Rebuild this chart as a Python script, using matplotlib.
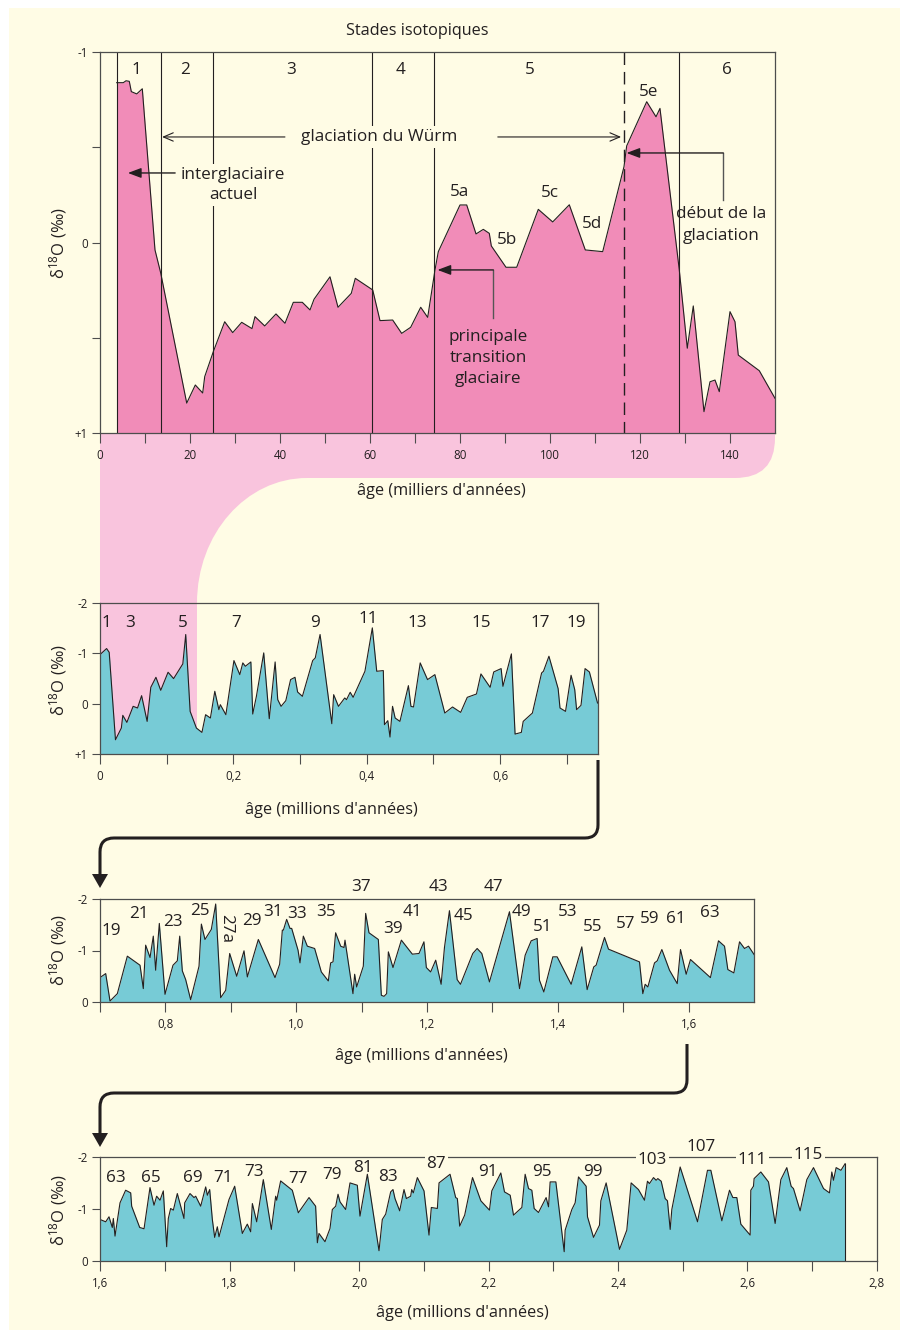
import numpy as np
import matplotlib.pyplot as plt
from matplotlib.path import Path
from matplotlib.patches import PathPatch, Rectangle, Polygon

plt.rcParams['font.family'] = ['Open Sans', 'DejaVu Sans']
plt.rcParams['mathtext.default'] = 'regular'

W, H = 902, 1330
CREAM = '#FFFCE5'
PINK = '#F18CB8'
LIGHTPINK = '#F9C4DD'
TEAL = '#77CBD6'
INK = '#231F20'
SPINE = '#4D4D4D'
FS_NOTE = 12.3
FS_LAB = 11.7

# ---- panel 1 : last 150 kyr (milliers d'annees)
age1 = [3.71, 5.18, 5.78, 6.51, 6.96, 8.16, 9.40, 12.22, 13.49, 19.27, 21.18, 22.82, 23.27,
        25.18, 27.71, 29.49, 31.49, 33.78, 34.44, 36.6, 39.11, 41.11, 42.96, 44.96, 46.67,
        47.56, 51.11, 52.89, 55.84, 56.73, 60.6, 62.22, 65.04, 67.04, 69.04, 71.27, 72.82,
        74.44, 75.18, 80.0, 81.49, 83.56, 85.18, 86.51, 86.96, 90.22, 92.6, 97.4, 100.6,
        104.29, 107.84, 111.71, 116.44, 117.04, 121.49, 123.56, 124.44, 128.73, 130.51,
        131.84, 134.22, 135.56, 136.67, 137.62, 140.0, 141.11, 141.84, 146.51, 150.0]
d18o1 = [-0.839, -0.839, -0.849, -0.846, -0.792, -0.780, -0.807, 0.039, 0.160, 0.843, 0.748,
         0.790, 0.704, 0.573, 0.416, 0.473, 0.419, 0.452, 0.389, 0.438, 0.375, 0.424, 0.314,
         0.314, 0.354, 0.298, 0.180, 0.340, 0.267, 0.188, 0.249, 0.410, 0.407, 0.477, 0.445,
         0.340, 0.393, 0.144, 0.048, -0.197, -0.197, -0.045, -0.069, -0.048, 0.018, 0.130,
         0.130, -0.174, -0.108, -0.198, 0.039, 0.048, -0.398, -0.507, -0.739, -0.660, -0.704,
         0.144, 0.555, 0.333, 0.888, 0.731, 0.722, 0.783, 0.363, 0.416, 0.591, 0.673, 0.818]
stage_bounds = [3.7, 13.5, 25.1, 60.5, 74.3, 128.7]
würm_start = 116.4
stages1 = ['1', '2', '3', '4', '5', '6']
stages1_age = [8.0, 18.9, 42.4, 66.9, 95.6, 139.3]
sub5 = ['5a', '5b', '5c', '5d', '5e']
sub5_pos = [(79.8, -0.265), (90.4, -0.013), (100.0, -0.26), (109.3, -0.097), (121.8, -0.79)]

# ---- panel 2 : 0 - 0.75 Ma
age2 = [0.0, 0.0099, 0.0138, 0.0232, 0.032, 0.0342, 0.0403, 0.0497, 0.0563, 0.0624, 0.0707,
        0.0762, 0.0839, 0.0911, 0.1021, 0.1104, 0.1242, 0.1286, 0.1352, 0.1446, 0.1529,
        0.1584, 0.1656, 0.1722, 0.1783, 0.1805, 0.1888, 0.2009, 0.2097, 0.2142, 0.218,
        0.2263, 0.2291, 0.2346, 0.2456, 0.2539, 0.2627, 0.2666, 0.2716, 0.2787, 0.2859,
        0.2925, 0.2964, 0.3036, 0.319, 0.3229, 0.3301, 0.3477, 0.3505, 0.3577, 0.3671,
        0.3698, 0.3753, 0.3797, 0.3974, 0.4085, 0.4151, 0.425, 0.4267, 0.4317, 0.435,
        0.4388, 0.4427, 0.4499, 0.4626, 0.4664, 0.4703, 0.4803, 0.4913, 0.5023, 0.5172,
        0.5288, 0.541, 0.5509, 0.5647, 0.5714, 0.5852, 0.5906, 0.6017, 0.6044, 0.6171,
        0.6226, 0.632, 0.6348, 0.6486, 0.6624, 0.6652, 0.6734, 0.6872, 0.69, 0.6983,
        0.7066, 0.7121, 0.7149, 0.7215, 0.7276, 0.7341, 0.7463]
d18o2 = [-0.975, -1.095, -1.02, 0.717, 0.484, 0.232, 0.372, 0.053, 0.086, -0.159, 0.352,
         -0.325, -0.524, -0.265, -0.624, -0.498, -0.79, -1.374, 0.153, 0.484, 0.571, 0.219,
         0.285, -0.246, 0.119, 0.02, 0.219, -0.856, -0.577, -0.81, -0.743, -0.829, 0.206,
         -0.146, -1.009, 0.299, -0.829, -0.08, 0.053, -0.06, -0.478, -0.524, -0.232, -0.146,
         -0.856, -0.909, -1.374, 0.398, -0.179, 0.053, -0.113, -0.08, -0.226, -0.126, -0.644,
         -1.506, -0.644, -0.657, 0.418, 0.338, 0.663, 0.053, 0.285, 0.352, -0.358, 0.053,
         0.066, -0.81, -0.478, -0.577, 0.186, 0.066, 0.173, -0.126, -0.192, -0.591, -0.325,
         -0.63, -0.697, -0.345, -0.989, 0.604, 0.571, 0.352, 0.186, -0.61, -0.644, -0.942,
         -0.299, 0.086, 0.153, -0.564, -0.279, 0.119, 0.033, -0.697, -0.63, -0.013]
lab2 = ['1', '3', '5', '7', '9', '11', '13', '15', '17', '19']
lab2_age = [0.0099, 0.0453, 0.1236, 0.2042, 0.3229, 0.4018, 0.4758, 0.5724, 0.6607, 0.7137]
lab2_val = [-1.60, -1.60, -1.60, -1.60, -1.60, -1.68, -1.60, -1.60, -1.60, -1.60]

# ---- panel 3 : 0.7 - 1.7 Ma
age3 = [0.7, 0.7087, 0.7153, 0.7265, 0.7418, 0.7612, 0.7662, 0.7698, 0.7765, 0.7815, 0.7851,
        0.7907, 0.7994, 0.8116, 0.8182, 0.8219, 0.8259, 0.831, 0.8386, 0.8514, 0.855,
        0.8605, 0.8702, 0.8769, 0.8845, 0.8922, 0.8983, 0.909, 0.9202, 0.9253, 0.9421,
        0.9676, 0.9747, 0.9788, 0.9804, 0.9854, 0.9905, 0.9931, 1.0028, 1.0058, 1.0109,
        1.017, 1.0282, 1.0384, 1.0491, 1.0527, 1.0563, 1.0603, 1.068, 1.0731, 1.0746,
        1.0868, 1.0894, 1.0924, 1.1026, 1.1062, 1.1113, 1.1256, 1.1302, 1.1343, 1.1383,
        1.1409, 1.148, 1.1608, 1.1776, 1.1878, 1.1953, 1.199, 1.2056, 1.2133, 1.2216,
        1.2267, 1.2343, 1.2461, 1.2512, 1.27, 1.2767, 1.2838, 1.2955, 1.3261, 1.3415,
        1.3501, 1.3593, 1.3684, 1.372, 1.3786, 1.3924, 1.399, 1.4204, 1.4367, 1.4449,
        1.455, 1.4586, 1.4714, 1.4775, 1.5249, 1.53, 1.5336, 1.5377, 1.5479, 1.552, 1.5591,
        1.5708, 1.5826, 1.5876, 1.5963, 1.6029, 1.6334, 1.6457, 1.6549, 1.66, 1.6692,
        1.6779, 1.6855, 1.6916, 1.7008]
d18o3 = [-0.474, -0.552, -0.019, -0.162, -0.89, -0.714, -0.26, -1.104, -0.864, -1.279,
         -0.617, -1.526, -0.149, -0.714, -0.799, -1.279, -0.604, -0.435, -0.045, -0.695,
         -1.513, -1.214, -1.409, -1.903, -0.084, -0.227, -0.942, -0.5, -0.994, -0.487,
         -1.214, -0.474, -0.734, -1.396, -1.396, -1.604, -1.429, -1.429, -1.006, -0.76,
         -1.279, -1.084, -1.039, -0.584, -0.409, -0.76, -0.779, -1.344, -1.084, -1.058,
         -1.201, -0.162, -0.539, -0.292, -0.695, -1.721, -1.344, -1.214, -0.13, -0.11,
         -0.162, -0.974, -0.669, -1.201, -0.929, -0.942, -1.169, -0.669, -0.584, -0.812,
         -0.344, -1.058, -1.773, -0.435, -0.344, -0.942, -1.039, -0.942, -0.39, -1.753,
         -0.26, -0.909, -1.188, -1.234, -0.422, -0.195, -0.877, -0.877, -0.344, -1.071,
         -0.24, -0.682, -0.714, -1.253, -1.026, -0.779, -0.162, -0.344, -0.292, -0.76,
         -0.799, -1.019, -0.617, -0.357, -1.019, -0.539, -0.825, -0.474, -1.188, -1.084,
         -0.63, -0.565, -1.169, -1.039, -1.084, -0.909]
lab3 = ['19', '21', '23', '25', '27a', '29', '31', '33', '35', '37', '39', '41', '43', '45',
        '47', '49', '51', '53', '55', '57', '59', '61', '63']
lab3_age = [0.7174, 0.7587, 0.8112, 0.8524, 0.8933, 0.9315, 0.9641, 1.0008, 1.0462, 1.0986,
            1.1476, 1.1781, 1.2174, 1.2557, 1.3009, 1.3448, 1.3765, 1.4156, 1.4538, 1.5038,
            1.541, 1.5803, 1.6327]
lab3_val = [-1.377, -1.708, -1.552, -1.766, -1.435, -1.572, -1.747, -1.708, -1.747, -2.234,
            -1.416, -1.747, -2.234, -1.675, -2.234, -1.747, -1.455, -1.753, -1.461, -1.513,
            -1.611, -1.611, -1.727]

# ---- panel 4 : 1.6 - 2.75 Ma
age4 = [1.6, 1.6088, 1.6139, 1.619, 1.6206, 1.6232, 1.6309, 1.6396, 1.6474, 1.6489, 1.6613,
        1.668, 1.6772, 1.6834, 1.6875, 1.6927, 1.6978, 1.703, 1.7055, 1.7091, 1.7133,
        1.7194, 1.7297, 1.7308, 1.739, 1.7452, 1.7478, 1.7555, 1.7632, 1.7658, 1.7694,
        1.7735, 1.7771, 1.7812, 1.7838, 1.7992, 1.808, 1.8198, 1.8275, 1.8327, 1.8353,
        1.842, 1.8522, 1.8646, 1.8713, 1.8729, 1.879, 1.897, 1.9063, 1.9228, 1.933, 1.9357,
        1.9382, 1.9475, 1.9552, 1.9588, 1.964, 1.9676, 1.9707, 1.9794, 1.9861, 1.9974,
        2.0015, 2.0129, 2.0309, 2.036, 2.0412, 2.0489, 2.0525, 2.0556, 2.0628, 2.0695,
        2.0731, 2.0798, 2.0814, 2.0839, 2.0901, 2.1004, 2.1081, 2.1117, 2.121, 2.1236,
        2.1406, 2.1493, 2.1519, 2.1555, 2.1632, 2.1753, 2.1882, 2.2015, 2.2051, 2.219,
        2.2247, 2.2335, 2.2386, 2.2515, 2.2566, 2.2618, 2.2669, 2.2705, 2.2772, 2.289,
        2.2927, 2.2952, 2.304, 2.3169, 2.3184, 2.3287, 2.3338, 2.339, 2.3508, 2.3529,
        2.3622, 2.3714, 2.3735, 2.3817, 2.4023, 2.4136, 2.4203, 2.4316, 2.4409, 2.4455,
        2.4486, 2.4548, 2.4589, 2.4615, 2.4667, 2.4728, 2.4764, 2.4806, 2.4831, 2.496,
        2.5228, 2.5382, 2.5434, 2.5604, 2.5722, 2.5774, 2.5835, 2.5897, 2.6041, 2.6051,
        2.6092, 2.6102, 2.6206, 2.6324, 2.6427, 2.6515, 2.6607, 2.6674, 2.671, 2.6813,
        2.6916, 2.7019, 2.7174, 2.7266, 2.7302, 2.7328, 2.7369, 2.7443, 2.7508]
d18o4 = [-0.799, -0.754, -0.85, -0.645, -0.818, -0.479, -1.118, -1.361, -1.31, -1.054,
         -0.645, -0.62, -1.412, -1.073, -1.246, -1.169, -1.348, -0.275, -0.818, -1.01,
         -0.978, -1.297, -0.818, -1.118, -1.297, -1.22, -1.246, -1.054, -1.425, -1.265,
         -1.374, -0.799, -0.454, -0.658, -0.466, -1.182, -1.438, -0.53, -0.709, -0.562,
         -1.105, -0.754, -1.565, -0.607, -1.246, -1.169, -1.54, -1.361, -0.927, -1.22,
         -1.054, -0.351, -0.53, -0.371, -0.626, -0.99, -1.054, -1.284, -1.137, -0.99,
         -1.502, -1.457, -0.863, -1.668, -0.198, -0.799, -0.901, -1.329, -1.374, -1.201,
         -0.965, -1.374, -1.201, -1.246, -1.374, -1.31, -1.604, -1.348, -0.498, -1.029,
         -1.01, -1.502, -1.668, -1.22, -1.201, -0.671, -0.882, -1.604, -1.157, -0.978,
         -1.348, -1.693, -1.329, -1.265, -0.882, -1.029, -1.668, -1.393, -1.361, -1.01,
         -0.933, -1.22, -1.042, -1.521, -1.521, -0.179, -0.594, -0.99, -1.118, -1.617,
         -1.438, -0.85, -0.454, -0.69, -1.157, -1.502, -0.224, -0.594, -1.502, -1.374,
         -1.169, -1.534, -1.489, -1.604, -1.553, -1.585, -1.534, -1.201, -1.157, -0.607,
         -0.99, -1.808, -0.754, -1.744, -1.744, -0.773, -1.361, -1.22, -1.22, -0.709,
         -0.498, -1.361, -1.438, -1.585, -1.712, -1.521, -0.722, -1.565, -1.796, -1.438,
         -1.393, -0.965, -1.565, -1.796, -1.393, -1.31, -1.712, -1.553, -1.796, -1.744,
         -1.872]
lab4 = ['63', '65', '69', '71', '73', '77', '79', '81', '83', '87', '91', '95', '99', '103',
        '107', '111', '115']
lab4_age = [1.6242, 1.6783, 1.7436, 1.79, 1.8378, 1.9058, 1.9589, 2.0057, 2.0454, 2.1195,
            2.1992, 2.2832, 2.3614, 2.4531, 2.5288, 2.6076, 2.694]
lab4_val = [-1.592, -1.592, -1.592, -1.592, -1.707, -1.572, -1.649, -1.783, -1.611, -1.86,
            -1.712, -1.712, -1.712, -1.937, -2.192, -1.937, -2.033]


def box(l, t, r, b):
    return [l / W, 1 - b / H, (r - l) / W, (b - t) / H]


def ftext(x, y, s, **kw):
    kw.setdefault('fontsize', FS_LAB)
    kw.setdefault('color', INK)
    fig.text(x / W, 1 - y / H, s, ha='center', va='center', **kw)


def style(ax):
    ax.set_facecolor('none')
    for sp in ax.spines.values():
        sp.set_color(SPINE)
        sp.set_linewidth(0.9)
    ax.tick_params(which='both', direction='out', color=SPINE, width=0.8,
                   labelsize=8.3, labelcolor=INK)
    ax.tick_params(axis='x', which='both', length=7.5, pad=4)
    ax.tick_params(axis='y', which='both', length=6, pad=3)


def comma(vals):
    return [('%.1f' % v).replace('.', ',') for v in vals]


fig = plt.figure(figsize=(W / 100, H / 100), dpi=100)
fig.patch.set_facecolor('white')

# background, zoom band, connecting arrows
bg = fig.add_axes([0, 0, 1, 1], zorder=0)
bg.set_xlim(0, W)
bg.set_ylim(H, 0)
bg.axis('off')
bg.add_patch(Rectangle((9, 8), 891, 1322, fc=CREAM, ec='none'))
band = Path([(100, 433), (775, 433), (775, 438), (775, 478), (735, 478), (307, 478),
             (246, 478), (197, 534), (197, 603), (100, 603), (100, 433)],
            [Path.MOVETO, Path.LINETO, Path.LINETO, Path.CURVE3, Path.CURVE3, Path.LINETO,
             Path.CURVE4, Path.CURVE4, Path.CURVE4, Path.LINETO, Path.CLOSEPOLY])
bg.add_patch(PathPatch(band, fc=LIGHTPINK, ec='none'))

for x0, y0, yh, ytip in [(598, 760, 838, 888), (687, 1044, 1093, 1147)]:
    p = Path([(x0, y0), (x0, yh - 13), (x0, yh), (x0 - 13, yh), (114, yh), (100, yh),
              (100, yh + 14), (100, ytip - 14)],
             [Path.MOVETO, Path.LINETO, Path.CURVE3, Path.CURVE3, Path.LINETO,
              Path.CURVE3, Path.CURVE3, Path.LINETO])
    bg.add_patch(PathPatch(p, fc='none', ec=INK, lw=2.2, capstyle='butt'))
    bg.add_patch(Polygon([(92, ytip - 14), (108, ytip - 14), (100, ytip)], closed=True,
                         fc=INK, ec='none'))

# ---------------- panel 1
ax1 = fig.add_axes(box(100, 52, 775, 433), zorder=1)
style(ax1)
ax1.fill_between(age1, d18o1, 1, color=PINK, lw=0, zorder=1)
ax1.plot(age1, d18o1, color=INK, lw=0.8, zorder=2)
ax1.vlines(stage_bounds, -1, 1, color=INK, lw=0.8, zorder=2)
ax1.vlines([würm_start], -1, 1, color=INK, lw=1.0, linestyles=(0, (9, 5)), zorder=2)
ax1.set_xlim(0, 150)
ax1.set_ylim(1, -1)
ax1.set_xticks(np.arange(0, 141, 20))
ax1.set_xticks(np.arange(10, 140, 20), minor=True)
ax1.set_yticks([-1, 0, 1])
ax1.set_yticklabels(['-1', '0', '+1'])
ax1.set_yticks([-0.5, 0.5], minor=True)
for s, a in zip(stages1, stages1_age):
    ax1.text(a, -0.905, s, ha='center', va='center', fontsize=FS_NOTE, color=INK)
for s, (a, v) in zip(sub5, sub5_pos):
    ax1.text(a, v, s, ha='center', va='center', fontsize=FS_NOTE, color=INK)

ax1.text(62.0, -0.554, 'glaciation du Würm', ha='center', va='center', fontsize=FS_NOTE,
         color=INK, bbox=dict(fc=CREAM, ec='none', pad=2))
open_arrow = dict(arrowstyle='->,head_length=0.7,head_width=0.3', color=INK, lw=0.8,
                  shrinkA=0, shrinkB=0)
ax1.annotate('', xy=(13.8, -0.554), xytext=(41.1, -0.554), arrowprops=open_arrow)
ax1.annotate('', xy=(115.8, -0.554), xytext=(88.4, -0.554), arrowprops=open_arrow)

solid_arrow = dict(arrowstyle='-|>,head_length=0.8,head_width=0.3', color='#555555',
                   fc=INK, ec=INK, lw=1.0, shrinkA=0, shrinkB=0)
ax1.text(29.6, -0.302, 'interglaciaire\nactuel', ha='center', va='center',
         fontsize=FS_NOTE, color=INK, linespacing=1.38,
         bbox=dict(fc=CREAM, ec='none', pad=2))
ax1.annotate('', xy=(6.2, -0.365), xytext=(16.7, -0.365), arrowprops=solid_arrow)

ax1.text(138.0, -0.092, 'début de la\nglaciation', ha='center', va='center',
         fontsize=FS_NOTE, color=INK, linespacing=1.45)
ax1.plot([138.5, 138.5], [-0.223, -0.470], color='#555555', lw=1.0)
ax1.annotate('', xy=(117.0, -0.470), xytext=(138.5, -0.470), arrowprops=solid_arrow)

ax1.text(86.2, 0.606, 'principale\ntransition\nglaciaire', ha='center', va='center',
         fontsize=FS_NOTE, color=INK, linespacing=1.38)
ax1.plot([87.4, 87.4], [0.396, 0.144], color='#555555', lw=1.0)
ax1.annotate('', xy=(75.0, 0.144), xytext=(87.4, 0.144), arrowprops=solid_arrow)

ftext(417, 31, 'Stades isotopiques')
ftext(441, 491, "âge (milliers d'années)")

# ---------------- panel 2
ax2 = fig.add_axes(box(100, 603, 598, 754), zorder=1)
style(ax2)
ax2.axvspan(0, 0.145, color=LIGHTPINK, lw=0, zorder=0)
ax2.fill_between(age2, d18o2, 1, color=TEAL, lw=0, zorder=1)
ax2.plot(age2, d18o2, color=INK, lw=0.8, zorder=2)
ax2.set_xlim(0, 0.747)
ax2.set_ylim(1, -2)
ax2.set_xticks([0, 0.2, 0.4, 0.6])
ax2.set_xticklabels(['0'] + comma([0.2, 0.4, 0.6]))
ax2.set_xticks([0.1, 0.3, 0.5, 0.7], minor=True)
ax2.set_yticks([-2, -1, 0, 1])
ax2.set_yticklabels(['-2', '-1', '0', '+1'])
for s, a, v in zip(lab2, lab2_age, lab2_val):
    ax2.text(a, v, s, ha='center', va='center', fontsize=FS_NOTE, color=INK)
ftext(331, 810, "âge (millions d'années)")

# ---------------- panel 3
ax3 = fig.add_axes(box(100, 899, 754, 1002), zorder=1)
style(ax3)
ax3.fill_between(age3, d18o3, 0, color=TEAL, lw=0, zorder=1)
ax3.plot(age3, d18o3, color=INK, lw=0.8, zorder=2)
ax3.set_xlim(0.7, 1.70)
ax3.set_ylim(0, -2)
ax3.set_xticks([0.8, 1.0, 1.2, 1.4, 1.6])
ax3.set_xticklabels(comma([0.8, 1.0, 1.2, 1.4, 1.6]))
ax3.set_xticks([0.7, 0.9, 1.1, 1.3, 1.5], minor=True)
ax3.set_yticks([-2, -1, 0])
ax3.set_yticklabels(['-2', '-1', '0'])
for s, a, v in zip(lab3, lab3_age, lab3_val):
    ax3.text(a, v, s, ha='center', va='center', fontsize=FS_NOTE, color=INK,
             rotation=-90 if s == '27a' else 0)
ftext(421, 1056, "âge (millions d'années)")

# ---------------- panel 4
ax4 = fig.add_axes(box(100, 1157, 877, 1261), zorder=1)
style(ax4)
ax4.fill_between(age4, d18o4, 0, color=TEAL, lw=0, zorder=1)
ax4.plot(age4, d18o4, color=INK, lw=0.8, zorder=2)
ax4.plot([age4[-1], age4[-1]], [d18o4[-1], 0], color=INK, lw=0.8, zorder=2)
ax4.set_xlim(1.6, 2.8)
ax4.set_ylim(0, -2)
ax4.set_xticks(np.arange(1.6, 2.81, 0.2))
ax4.set_xticklabels(comma(np.arange(1.6, 2.81, 0.2)))
ax4.set_xticks(np.arange(1.7, 2.8, 0.2), minor=True)
ax4.set_yticks([-2, -1, 0])
ax4.set_yticklabels(['-2', '-1', '0'])
for s, a, v in zip(lab4, lab4_age, lab4_val):
    bb = dict(fc=CREAM, ec='none', pad=1.5) if -2.1 < v < -1.8 else None
    ax4.text(a, v, s, ha='center', va='center', fontsize=FS_NOTE, color=INK, bbox=bb,
             zorder=4)
ftext(462, 1313, "âge (millions d'années)")

for yc in [243, 680, 950, 1210]:
    ftext(58, yc, 'δ$^{18}$O (‰)', rotation=90, fontsize=12)

fig.savefig('out.png', dpi=100, facecolor='white')
